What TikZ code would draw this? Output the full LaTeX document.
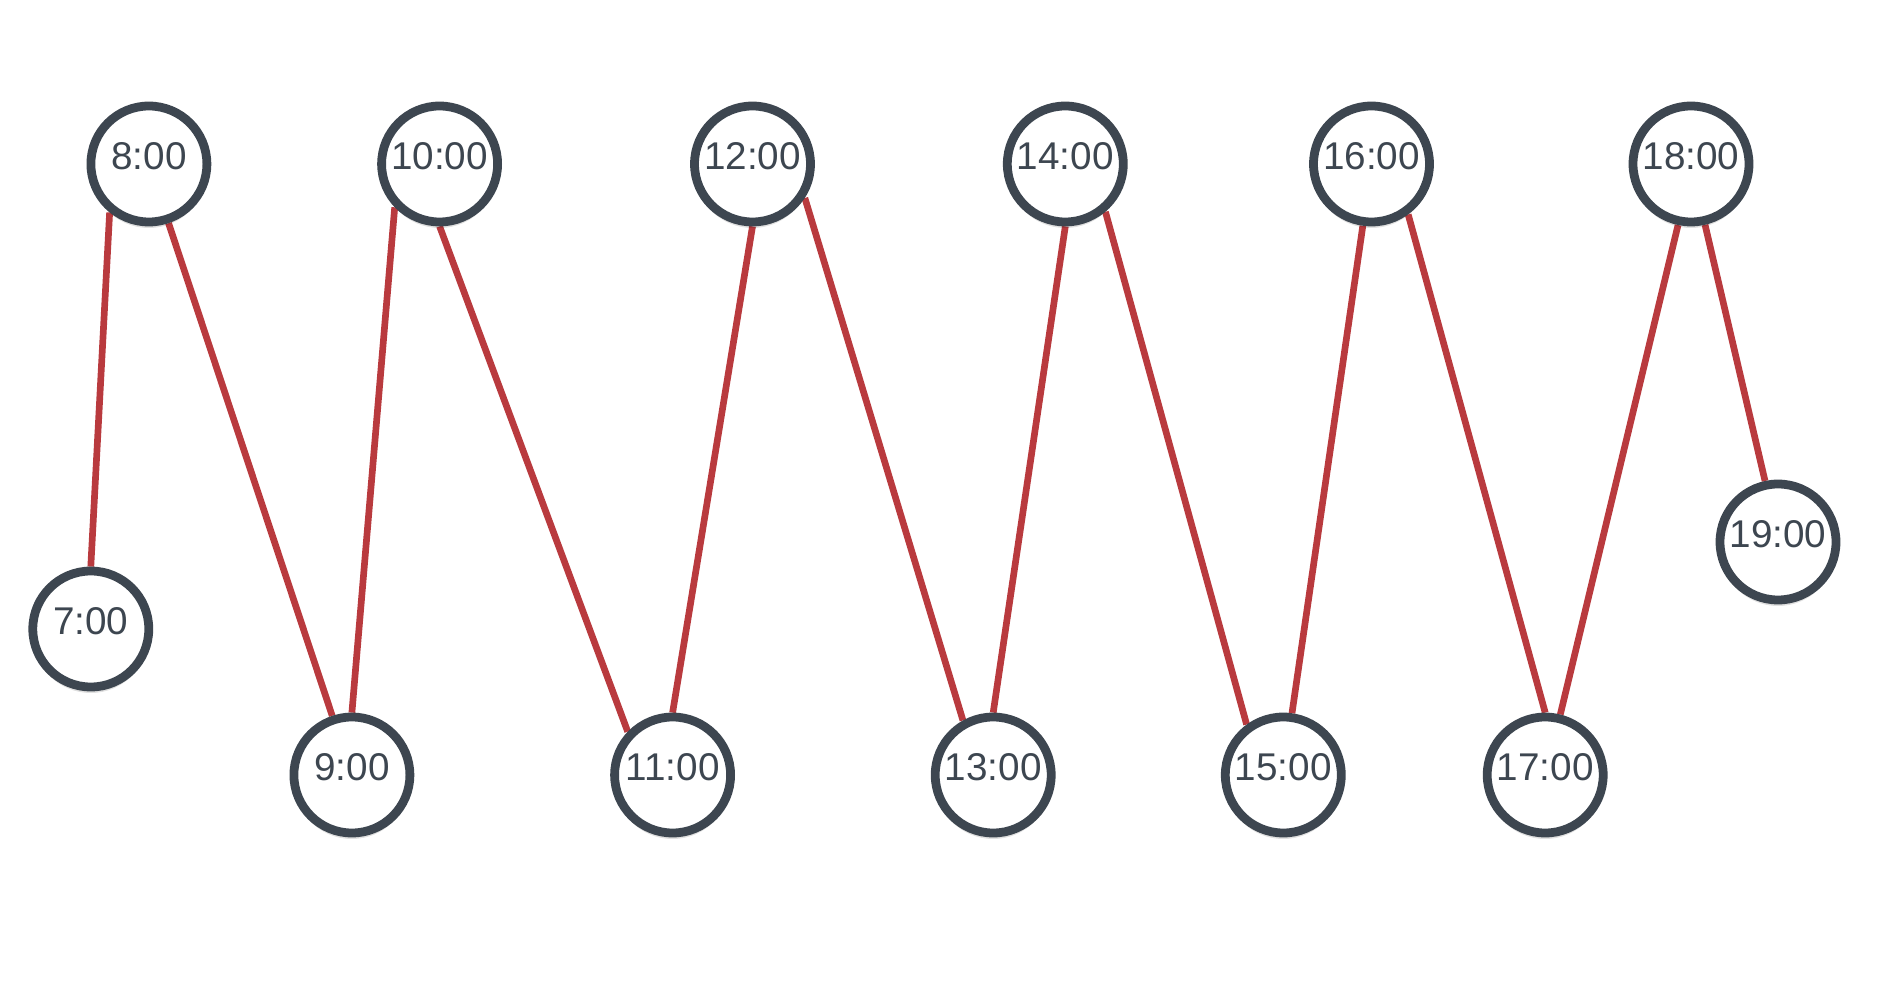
\documentclass[tikz,border=0pt]{standalone}
\usepackage{fontspec}
\setmainfont{Liberation Sans}
\usepackage{xcolor}
\usetikzlibrary{shadows,backgrounds}
\definecolor{ringgray}{HTML}{3D4650}
\definecolor{linkred}{HTML}{B93A3E}

\begin{document}
\begin{tikzpicture}[
  hour/.style={circle, draw=ringgray, line width=2.5pt, fill=white, minimum size=1.16cm, inner sep=0pt,
    text=ringgray, font=\fontsize{11pt}{13pt}\selectfont, text depth=0.15cm,
    drop shadow={shadow xshift=0pt, shadow yshift=-0.06cm, opacity=0.12, fill=black}},
  link/.style={draw=linkred, line width=1.9pt}
]
\useasboundingbox (0,0) rectangle (18.82,9.9);

\node[hour] (n8) at (1.489,8.26) {8:00};
\node[hour] (n10) at (4.396,8.26) {10:00};
\node[hour] (n12) at (7.525,8.26) {12:00};
\node[hour] (n14) at (10.653,8.26) {14:00};
\node[hour] (n16) at (13.715,8.26) {16:00};
\node[hour] (n18) at (16.91,8.26) {18:00};

\node[hour] (n7) at (0.908,3.61) {7:00};
\node[hour] (n19) at (17.78,4.48) {19:00};

\node[hour] (n9) at (3.519,2.15) {9:00};
\node[hour] (n11) at (6.726,2.15) {11:00};
\node[hour] (n13) at (9.932,2.15) {13:00};
\node[hour] (n15) at (12.833,2.15) {15:00};
\node[hour] (n17) at (15.452,2.15) {17:00};

\begin{scope}[on background layer] %links sit behind the rings
\draw[link] (n7.north) -- (n8.231);
\draw[link] (n8) -- (n9);
\draw[link] (n9.north) -- (n10.224);
\draw[link] (n10.south) -- (n11.136);
\draw[link] (n11.north) -- (n12.south);
\draw[link] (n12.-33) -- (n13.119);
\draw[link] (n13.north) -- (n14.south);
\draw[link] (n14.-50) -- (n15.126);
\draw[link] (n15.82) -- (n16.262);
\draw[link] (n16.-54) -- (n17.north);
\draw[link] (n17.76) -- (n18.258);
\draw[link] (n18.-77) -- (n19.102);
\end{scope}
\end{tikzpicture}
\end{document}
